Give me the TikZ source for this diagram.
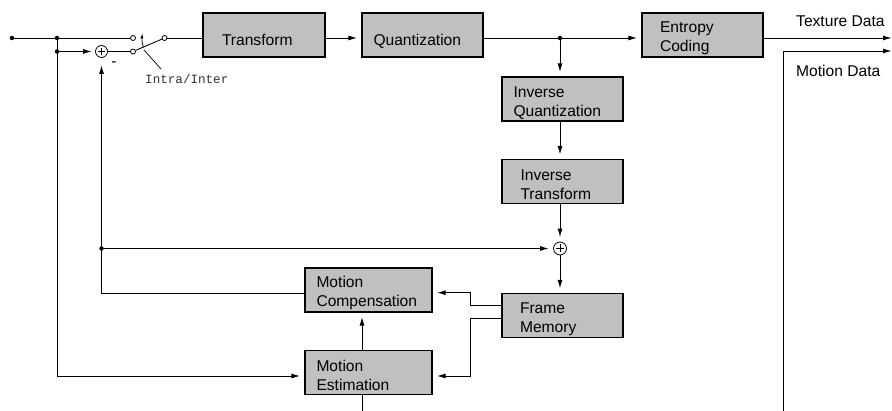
\documentclass[tikz,border=0pt]{standalone}
\usepackage{fontspec}
\setmainfont{Liberation Sans}
\newfontfamily\courfont{Liberation Mono}
\usetikzlibrary{arrows.meta}
\definecolor{boxgray}{RGB}{192,192,192}
\begin{document}
\begin{tikzpicture}[x=1pt,y=-1pt,
  box/.style={draw, line width=1.2pt, fill=boxgray, minimum height=44pt, inner ysep=0pt, align=left, font=\fontsize{15.6}{19}\selectfont},
  one/.style={text height=22pt, text depth=0pt},
  two/.style={text height=18pt},
  conn/.style={line width=0.9pt},
  arr/.style={conn, -{Latex[length=8.5pt,width=5pt]}, shorten >=4.5pt},
  dot/.style={circle, fill, inner sep=0pt, minimum size=4.5pt},
  contact/.style={circle, draw, fill=white, inner sep=0pt, minimum size=5pt, line width=0.8pt},
  sum/.style={circle, draw, inner sep=0pt, line width=0.8pt},
  lbl/.style={font=\fontsize{15.6}{19}\selectfont, anchor=base west, inner sep=0pt},
]
\useasboundingbox (0,0) rectangle (892,411);

% blocks
\node[box, one, inner xsep=19pt, text width=84pt] (tr) at (264,35) {Transform};
\node[box, one, inner xsep=11.5pt, text width=98pt] (qu) at (422.5,35) {Quantization};
\node[box, two, inner xsep=18pt, text width=85pt] (ec) at (702.5,35) {Entropy\\Coding};
\node[box, two, inner xsep=11.5pt, text width=98pt] (iq) at (562.5,99) {Inverse\\Quantization};
\node[box, two, inner xsep=18.5pt, text width=84pt] (it) at (562.5,181.5) {Inverse\\Transform};
\node[box, two, inner xsep=18pt, text width=85pt] (fm) at (562.5,315.5) {Frame\\Memory};
\node[box, two, inner xsep=11.5pt, text width=104pt] (mc) at (368.5,290) {Motion\\Compensation};
\node[box, two, inner xsep=11.5pt, text width=104pt] (me) at (368.5,372.5) {Motion\\Estimation};

% junctions
\node[dot] (in) at (12,38) {};
\node[dot] (d1) at (57,38) {};
\node[dot] (d2) at (57,51.5) {};
\node[dot] (d3) at (560,38) {};
\node[dot] (d4) at (101.5,248.5) {};

% summing points
\node[sum, minimum size=12pt] (s1) at (101.5,51.5) {};
\draw[line width=0.7pt] ([yshift=3.5pt]s1.center) -- ([yshift=-3.5pt]s1.center)
  ([xshift=-3.5pt]s1.center) -- ([xshift=3.5pt]s1.center);
\node[sum, minimum size=13pt] (s2) at (560,248.5) {};
\draw[line width=0.7pt] ([yshift=4pt]s2.center) -- ([yshift=-4pt]s2.center)
  ([xshift=-4pt]s2.center) -- ([xshift=4pt]s2.center);
\node[font=\fontsize{15.6}{19}\selectfont, inner sep=0pt] (minus) at (114,64) {-};

% switch
\node[contact] (c1) at (133,38) {};
\node[contact] (c2) at (133,51.5) {};
\node[contact] (c3) at (164.5,38) {};
\draw[conn] (c2) -- (c3);
\coordinate (swa) at (143.5,47.5);
\coordinate (swb) at (142.5,33.5);
\draw[line width=0.7pt, -{Latex[length=5pt,width=3pt]}] (swa) to[bend left=12] (swb);
\node[font=\courfont\fontsize{12.6}{14}\selectfont, text=black!80, anchor=base west, inner sep=0pt] (ii) at (145,83.3) {Intra/Inter};
\coordinate (pt1) at (161,69);
\coordinate (pt2) at (144,50);
\draw[line width=0.7pt] (pt1) -- (pt2);

% forward path
\draw[conn] (in) -- (d1) -- (c1);
\draw[arr, shorten >=3.5pt] (d2) -- (s1);
\draw[conn] (s1) -- (c2);
\draw[conn] (c3) -- (c3 -| tr.west);
\draw[arr] (tr.east |- c3) -- (qu.west |- c3);
\draw[conn] (qu.east |- d3) -- (d3);
\draw[arr] (d3) -- (ec.west |- d3);
\draw[arr] (d3) -- (d3 |- iq.north);
\draw[arr] (d3 |- iq.south) -- (d3 |- it.north);
\draw[arr] (d3 |- it.south) -- (s2);
\draw[arr] (s2) -- (d3 |- fm.north);
\draw[arr] (d4) -- (s2);

% outputs
\coordinate (tx) at (892,38);
\draw[arr, shorten >=0.5pt] (ec.east |- d3) -- (tx);
\coordinate (mdbot) at (783,411);
\coordinate (mdtop) at (783,51);
\coordinate (mdend) at (892,51);
\draw[conn, -{Latex[length=8.5pt,width=5pt]}, shorten >=0.5pt] (mdbot) -- (mdtop) -- (mdend);
\node[lbl] (txl) at (796,26.5) {Texture Data};
\node[lbl] (mdl) at (796,76.7) {Motion Data};

% feedback
\draw[arr] (d1) |- ([yshift=-3.5pt]me.west);
\draw[arr, shorten >=7.5pt] ([yshift=-3pt]mc.west) -| (s1);
\draw[arr] ([yshift=10.5pt]fm.west) -- ++(-31,0) |- ([yshift=-2.7pt]mc.east);
\draw[arr] ([yshift=-3pt]fm.west) -- ++(-31,0) |- ([yshift=-3.5pt]me.east);
\draw[arr] ([xshift=-6.5pt]me.north) -- ([xshift=-6.5pt]mc.south);
\coordinate (mebot) at (362,411);
\draw[conn] ([xshift=-6.5pt]me.south) -- (mebot);
\end{tikzpicture}
\end{document}
